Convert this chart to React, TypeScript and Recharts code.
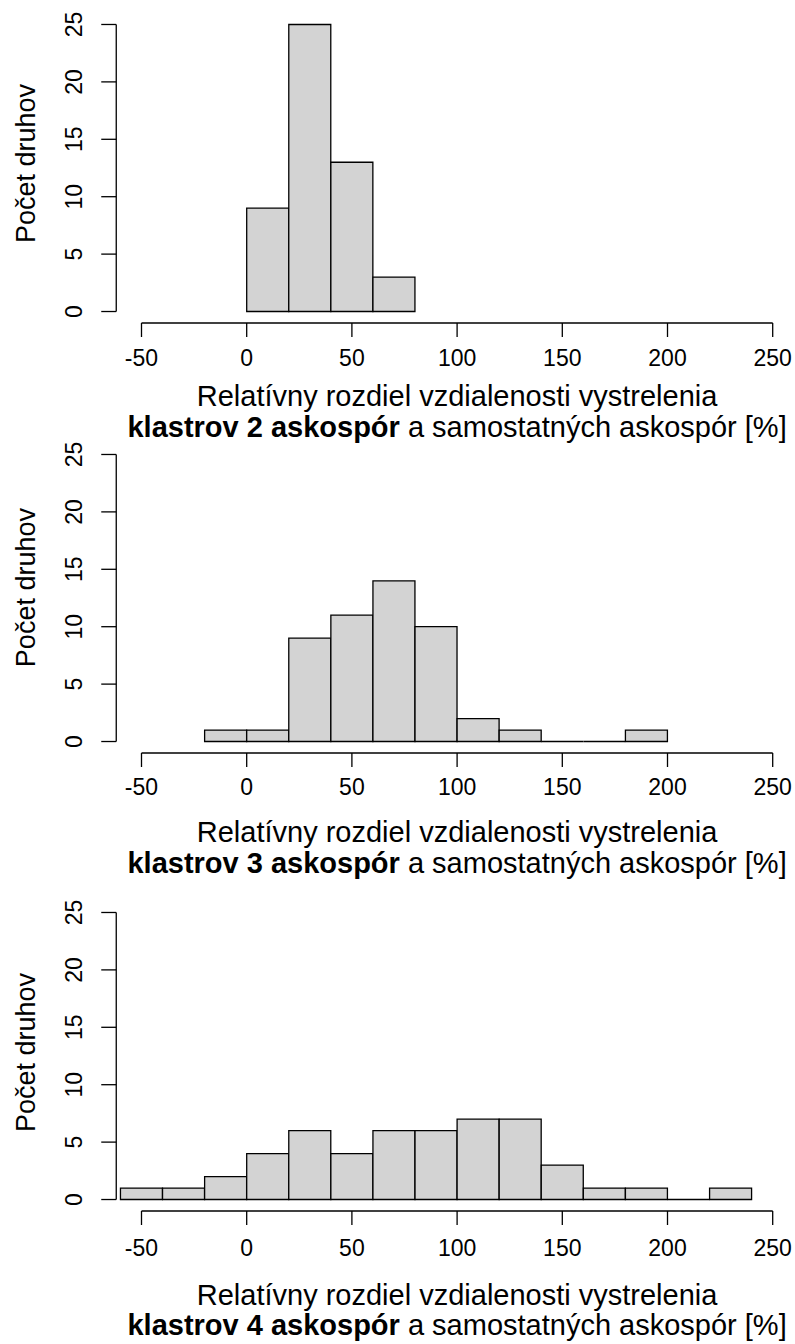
import React from "react";
import { BarChart, Bar, XAxis, YAxis, ReferenceLine } from "recharts";

// histogram breaks and counts
const breaks2 = [0, 20, 40, 60, 80];
const counts2 = [9, 25, 13, 3];

const breaks3 = [-20, 0, 20, 40, 60, 80, 100, 120, 140, 160, 180, 200];
const counts3 = [1, 1, 9, 11, 14, 10, 2, 1, 0, 0, 1];

const breaks4 = [-60, -40, -20, 0, 20, 40, 60, 80, 100, 120, 140, 160, 180, 200, 220, 240];
const counts4 = [1, 1, 2, 4, 6, 4, 6, 6, 7, 7, 3, 1, 1, 0, 1];

const xTicks = [-50, 0, 50, 100, 150, 200, 250];
const yTicks = [0, 5, 10, 15, 20, 25];

const xTitle = "Relatívny rozdiel vzdialenosti vystrelenia";
const boldParts = ["klastrov 2 askospór", "klastrov 3 askospór", "klastrov 4 askospór"];
const restTitle = " a samostatných askospór [%]";
const yTitle = "Počet druhov";

const FONT = "'Liberation Sans', Arial, Helvetica, sans-serif";
const W = 800;
const PLOT_LEFT = 116.25;
const PLOT_RIGHT = 797.95;
const MT = 10;
const PH = 310;
const AXIS_Y = MT + PH;
const CX = (PLOT_LEFT + PLOT_RIGHT) / 2;

const panels = [
  { breaks: breaks2, counts: counts2, top: 13, tickOff: 42.7, t1: 83, t2: 114, yMid: 150.5 },
  { breaks: breaks3, counts: counts3, top: 443.4, tickOff: 42.3, t1: 89, t2: 120, yMid: 144.6 },
  { breaks: breaks4, counts: counts4, top: 901, tickOff: 45, t1: 94, t2: 123.5, yMid: 151.5 },
];

function toRows(breaks: number[], counts: number[]) {
  return counts.map((c, i) => ({ mid: (breaks[i] + breaks[i + 1]) / 2, count: c }));
}

const HistRect = (props: any) => {
  const { x, y, width, height } = props;
  return (
    <path
      d={`M${x},${y + height}V${y}H${x + width}V${y + height}Z`}
      fill="#D3D3D3"
      stroke="#000"
      strokeWidth={1.3}
    />
  );
};

function Panel({ p, idx }: { p: (typeof panels)[number]; idx: number }) {
  const data = toRows(p.breaks, p.counts);
  const H = MT + PH + 140;
  return (
    <div style={{ position: "absolute", left: 0, top: p.top - MT }}>
      <BarChart
        width={W}
        height={H}
        data={data}
        margin={{ top: MT, right: W - PLOT_RIGHT, bottom: 0, left: 0 }}
        barCategoryGap={0}
        barGap={0}
      >
        <XAxis
          type="number"
          dataKey="mid"
          domain={[-62, 262]}
          allowDataOverflow
          ticks={xTicks}
          interval={0}
          height={140}
          axisLine={false}
          tickSize={14}
          tickMargin={0}
          tickLine={{ stroke: "#000", strokeWidth: 1.3 }}
          tick={({ x, payload }: any) => (
            <text x={x} y={AXIS_Y + p.tickOff} textAnchor="middle" fontSize={23} fontFamily={FONT} fill="#000">
              {payload.value}
            </text>
          )}
          label={{
            content: () => (
              <g fontFamily={FONT} fontSize={29} fill="#000">
                <text x={CX} y={AXIS_Y + p.t1} textAnchor="middle">
                  {xTitle}
                </text>
                <text x={CX} y={AXIS_Y + p.t2} textAnchor="middle">
                  <tspan fontWeight="bold">{boldParts[idx]}</tspan>
                  {restTitle}
                </text>
              </g>
            ),
          }}
        />
        <YAxis
          type="number"
          domain={[-1, 26]}
          allowDataOverflow
          ticks={yTicks}
          interval={0}
          width={PLOT_LEFT}
          axisLine={false}
          tickSize={15}
          tickMargin={0}
          tickLine={{ stroke: "#000", strokeWidth: 1.3 }}
          tick={({ y, payload }: any) => (
            <text
              x={81.7}
              y={y}
              transform={`rotate(-90 81.7 ${y})`}
              textAnchor="middle"
              fontSize={23}
              fontFamily={FONT}
              fill="#000"
            >
              {payload.value}
            </text>
          )}
          label={{
            content: () => (
              <text
                x={35}
                y={MT + p.yMid}
                transform={`rotate(-90 35 ${MT + p.yMid})`}
                textAnchor="middle"
                fontSize={27}
                fontFamily={FONT}
                fill="#000"
              >
                {yTitle}
              </text>
            ),
          }}
        />
        <ReferenceLine
          segment={[{ x: -50, y: -1 }, { x: 250, y: -1 }]}
          stroke="#000"
          strokeWidth={1.3}
        />
        <ReferenceLine
          segment={[{ x: -62, y: 0 }, { x: -62, y: 25 }]}
          stroke="#000"
          strokeWidth={1.3}
        />
        <Bar dataKey="count" shape={HistRect} isAnimationActive={false} />
      </BarChart>
    </div>
  );
}

export default function App() {
  return (
    <div
      style={{
        position: "absolute",
        left: 0,
        top: 0,
        width: 795,
        height: 1344,
        overflow: "hidden",
        background: "#fff",
      }}
    >
      {panels.map((p, i) => (
        <Panel key={i} p={p} idx={i} />
      ))}
    </div>
  );
}
